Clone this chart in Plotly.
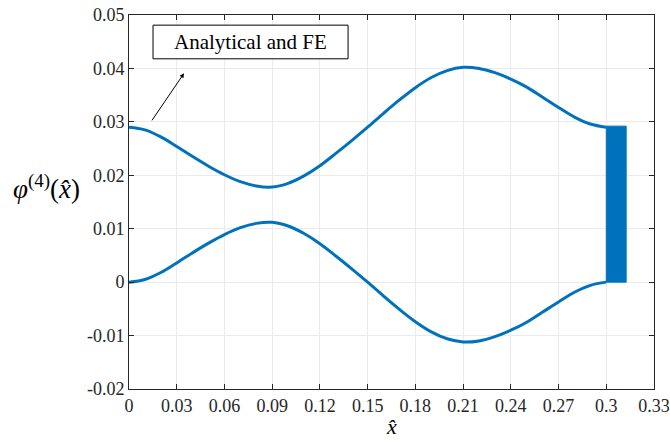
import plotly.graph_objects as go

# x positions (normalised coordinate x-hat)
x_vals = [0.0, 0.01, 0.02, 0.03, 0.04, 0.05, 0.06, 0.07, 0.08, 0.09, 0.10,
          0.11, 0.12, 0.13, 0.14, 0.15, 0.16, 0.17, 0.18, 0.19, 0.20,
          0.21, 0.22, 0.23, 0.24, 0.25, 0.26, 0.27, 0.28, 0.29, 0.30]

# lower branch of phi^(4)
lower_vals = [0.0, 0.0005, 0.0018, 0.0036, 0.0055, 0.0073, 0.0089, 0.0102, 0.0110, 0.0112, 0.0105,
              0.0091, 0.0072, 0.0049, 0.0025, 0.0, -0.0026, -0.0051, -0.0074, -0.0093, -0.0106,
              -0.0112, -0.0110, -0.0102, -0.0090, -0.0075, -0.0056, -0.0037, -0.0019, -0.0006, 0.0]

# upper branch of phi^(4)
upper_vals = [0.0290, 0.0285, 0.0272, 0.0254, 0.0235, 0.0217, 0.0201, 0.0188, 0.0180, 0.0178, 0.0185,
              0.0199, 0.0218, 0.0241, 0.0265, 0.0290, 0.0316, 0.0341, 0.0364, 0.0383, 0.0396,
              0.0402, 0.0400, 0.0392, 0.0380, 0.0365, 0.0346, 0.0327, 0.0309, 0.0296, 0.0290]

# filled block at the end of the domain
block_x = [0.300, 0.3125, 0.3125, 0.300, 0.300]
block_y = [0.0, 0.0, 0.0292, 0.0292, 0.0]

x_ticks = [0, 0.03, 0.06, 0.09, 0.12, 0.15, 0.18, 0.21, 0.24, 0.27, 0.30, 0.33]
x_ticktext = ["0", "0.03", "0.06", "0.09", "0.12", "0.15", "0.18", "0.21", "0.24", "0.27", "0.3", "0.33"]
y_ticks = [-0.02, -0.01, 0, 0.01, 0.02, 0.03, 0.04, 0.05]
y_ticktext = ["-0.02", "-0.01", "0", "0.01", "0.02", "0.03", "0.04", "0.05"]

BLUE = "#0072BD"
AX = "#262626"
FONT = "Liberation Serif"

fig = go.Figure()
fig.add_trace(go.Scatter(x=x_vals, y=upper_vals, mode="lines",
                         line=dict(color=BLUE, width=3, shape="spline", smoothing=1.0), showlegend=False))
fig.add_trace(go.Scatter(x=x_vals, y=lower_vals, mode="lines",
                         line=dict(color=BLUE, width=3, shape="spline", smoothing=1.0), showlegend=False))
fig.add_trace(go.Scatter(x=block_x, y=block_y, mode="lines", fill="toself",
                         fillcolor=BLUE, line=dict(color=BLUE, width=1), showlegend=False))

axis_common = dict(showline=True, linecolor=AX, linewidth=1, mirror="ticks",
                   ticks="inside", ticklen=5, tickcolor=AX, automargin=False,
                   showgrid=True, gridcolor="#ebebeb", gridwidth=1,
                   zeroline=False, tickfont=dict(family=FONT, size=18, color=AX))

fig.update_xaxes(range=[0, 0.33], tickvals=x_ticks, ticktext=x_ticktext, **axis_common)
fig.update_yaxes(range=[-0.02, 0.05], tickvals=y_ticks, ticktext=y_ticktext, **axis_common)

# label box
fig.add_shape(type="rect", xref="x", yref="y", x0=0.0151, x1=0.1377, y0=0.0418, y1=0.0481,
              line=dict(color="#000000", width=1), fillcolor="white")
fig.add_annotation(x=0.0761, y=0.04495, xref="x", yref="y", text="Analytical and FE",
                   showarrow=False, font=dict(family=FONT, size=21, color="#000000"))
# arrow
fig.add_annotation(x=0.0346, y=0.0391, ax=0.0138, ay=0.0300, xref="x", yref="y",
                   axref="x", ayref="y", text="", showarrow=True, arrowhead=2,
                   arrowsize=0.9, arrowwidth=1, arrowcolor="#000000")

# axis titles
fig.add_annotation(xref="paper", yref="paper", x=-0.089, y=0.54, xanchor="right", yanchor="middle",
                   text="<i>φ</i><sup>(4)</sup>(<i>x̂</i>)", showarrow=False,
                   font=dict(family=FONT, size=27, color="#000000"))
fig.add_annotation(xref="paper", yref="paper", x=0.5, y=-0.139, xanchor="center", yanchor="bottom",
                   text="<i>x̂</i>", showarrow=False,
                   font=dict(family=FONT, size=22, color="#000000"))

fig.update_layout(width=670, height=442, margin=dict(l=129, r=16, t=15, b=53),
                  paper_bgcolor="white", plot_bgcolor="white")

fig.write_html("out.html")
